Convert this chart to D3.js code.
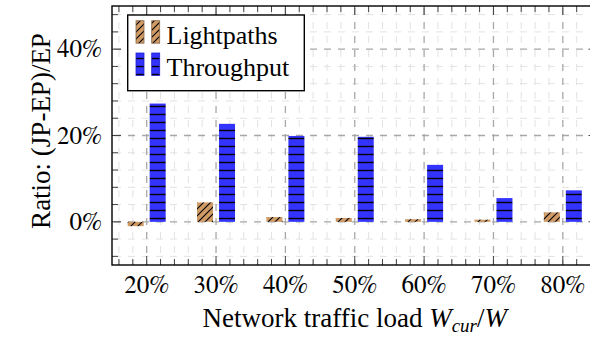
<!DOCTYPE html>
<html><head><meta charset="utf-8">
<script src="https://cdn.jsdelivr.net/npm/d3@7"></script>
</head><body style="margin:0;background:#fff">
<script>
const categories = [20, 30, 40, 50, 60, 70, 80];
const categoryLabels = ["20%", "30%", "40%", "50%", "60%", "70%", "80%"];
const lightpaths = [-1.0, 4.5, 1.1, 0.9, 0.6, 0.5, 2.2];
const throughput = [27.4, 22.7, 19.9, 19.7, 13.2, 5.5, 7.3];
const yTicks = [0, 20, 40];
const yTickLabels = ["0%", "20%", "40%"];
const seriesNames = ["Lightpaths", "Throughput"];

(function () {
const W = 590, H = 338;
const svg = d3.select("body").append("svg").attr("width", W).attr("height", H).style("display", "block");
const serifStyle = s => `font-family: "Liberation Serif", "Times New Roman", serif !important; font-size: ${s}px`;
const tickStyle = s => `font-family: "FreeSerif", "Liberation Serif", serif !important; font-size: ${s}px`;

const pL = 112, pR = 597.5, pT = 6, pB = 265;
const x = d3.scaleLinear().domain([15, 85]).range([pL, pR]);
const y = d3.scaleLinear().domain([-10, 50]).range([pB, pT]);

const defs = svg.append("defs");
const clip = defs.append("clipPath").attr("id", "plotclip");
clip.append("rect").attr("x", pL).attr("y", pT).attr("width", pR - pL).attr("height", pB - pT);

const p1 = defs.append("pattern").attr("id", "nelines").attr("patternUnits", "userSpaceOnUse")
  .attr("width", 7).attr("height", 7);
p1.append("rect").attr("width", 7).attr("height", 7).attr("fill", "#d09a64");
p1.append("path").attr("d", "M-1,8 L8,-1 M-4,4 L4,-4 M3,11 L11,3").attr("stroke", "#000").attr("stroke-width", 1.1);
const p2 = defs.append("pattern").attr("id", "hlines").attr("patternUnits", "userSpaceOnUse")
  .attr("width", 8).attr("height", 8);
p2.append("rect").attr("width", 8).attr("height", 8).attr("fill", "#3333ff");
p2.append("line").attr("x1", 0).attr("x2", 8).attr("y1", 2.5).attr("y2", 2.5).attr("stroke", "#000").attr("stroke-width", 1.4);

const g = svg.append("g");
const xMinor = d3.range(16, 85, 2).filter(v => (v - 20) % 10 !== 0);
const yMinor = d3.range(-8, 50, 4).filter(v => v % 20 !== 0);
const grid = g.append("g").attr("clip-path", "url(#plotclip)");
grid.selectAll(".xm").data(xMinor).join("line")
  .attr("x1", d => x(d)).attr("x2", d => x(d)).attr("y1", pT).attr("y2", pB)
  .attr("stroke", "#e2e2e2").attr("stroke-width", 1).attr("stroke-dasharray", "7,7").attr("stroke-dashoffset", -2);
grid.selectAll(".ym").data(yMinor).join("line")
  .attr("x1", pL).attr("x2", pR).attr("y1", d => y(d)).attr("y2", d => y(d))
  .attr("stroke", "#e2e2e2").attr("stroke-width", 1).attr("stroke-dasharray", "7,7").attr("stroke-dashoffset", -2);
grid.selectAll(".xM").data(categories).join("line")
  .attr("x1", d => x(d)).attr("x2", d => x(d)).attr("y1", pT).attr("y2", pB)
  .attr("stroke", "#a8a8a8").attr("stroke-width", 1.3).attr("stroke-dasharray", "7,7").attr("stroke-dashoffset", -2);
grid.selectAll(".yM").data(yTicks).join("line")
  .attr("x1", pL).attr("x2", pR).attr("y1", d => y(d)).attr("y2", d => y(d))
  .attr("stroke", "#a8a8a8").attr("stroke-width", 1.3).attr("stroke-dasharray", "7,7").attr("stroke-dashoffset", -2);

const bw = 16, off = 11;
const bars = g.append("g").attr("clip-path", "url(#plotclip)");
bars.selectAll(".lp").data(categories).join("rect")
  .attr("x", d => x(d) - off - bw / 2).attr("width", bw)
  .attr("y", (d, i) => y(Math.max(0, lightpaths[i])))
  .attr("height", (d, i) => Math.abs(y(lightpaths[i]) - y(0)))
  .attr("fill", "url(#nelines)");
bars.selectAll(".tp").data(categories).join("rect")
  .attr("x", d => x(d) + off - bw / 2).attr("width", bw)
  .attr("y", (d, i) => y(Math.max(0, throughput[i])))
  .attr("height", (d, i) => Math.abs(y(throughput[i]) - y(0)))
  .attr("fill", "url(#hlines)");

const tk = g.append("g").attr("stroke", "#444").attr("stroke-width", 1);
xMinor.forEach(v => {
  tk.append("line").attr("x1", x(v)).attr("x2", x(v)).attr("y1", pB).attr("y2", pB - 6);
  tk.append("line").attr("x1", x(v)).attr("x2", x(v)).attr("y1", pT).attr("y2", pT + 6);
});
categories.forEach(v => {
  tk.append("line").attr("x1", x(v)).attr("x2", x(v)).attr("y1", pB).attr("y2", pB - 9);
  tk.append("line").attr("x1", x(v)).attr("x2", x(v)).attr("y1", pT).attr("y2", pT + 9);
});
yMinor.forEach(v => {
  tk.append("line").attr("x1", pL).attr("x2", pL + 6).attr("y1", y(v)).attr("y2", y(v));
  tk.append("line").attr("x1", pR).attr("x2", pR - 6).attr("y1", y(v)).attr("y2", y(v));
});
yTicks.forEach(v => {
  tk.append("line").attr("x1", pL).attr("x2", pL + 9).attr("y1", y(v)).attr("y2", y(v));
  tk.append("line").attr("x1", pR).attr("x2", pR - 9).attr("y1", y(v)).attr("y2", y(v));
});

g.append("rect").attr("x", pL).attr("y", pT).attr("width", pR - pL).attr("height", pB - pT)
  .attr("fill", "none").attr("stroke", "#000").attr("stroke-width", 1.4);

// legend box
svg.append("rect").attr("x", 127.7).attr("y", 15).attr("width", 176.6).attr("height", 75.7)
  .attr("fill", "#fff").attr("stroke", "#000").attr("stroke-width", 1.4);
const fills = ["url(#nelines)", "url(#hlines)"];
const ly = [20.7, 53];
seriesNames.forEach((name, i) => {
  [136, 151.7].forEach(xx => {
    svg.append("rect").attr("x", xx).attr("y", ly[i]).attr("width", 8).attr("height", 22.5).attr("fill", fills[i])
      .attr("stroke", i === 0 ? "#8a6a4a" : "#2222cc").attr("stroke-width", 0.8);
  });
});

// texts directly under svg
categories.forEach((c, i) => {
  svg.append("text").attr("x", x(c)).attr("y", 293).attr("text-anchor", "middle")
    .attr("style", tickStyle(25)).text(categoryLabels[i]);
});
yTicks.forEach((t, i) => {
  svg.append("text").attr("x", 102).attr("y", y(t) + 8.3).attr("text-anchor", "end")
    .attr("style", tickStyle(25)).text(yTickLabels[i]);
});

const xl = svg.append("text").attr("x", (pL + pR) / 2).attr("y", 327).attr("text-anchor", "middle")
  .attr("style", serifStyle(27));
xl.append("tspan").text("Network traffic load ");
xl.append("tspan").attr("font-style", "italic").text("W");
xl.append("tspan").attr("font-style", "italic").attr("style", "font-size:19px").attr("dy", 5).text("cur");
xl.append("tspan").attr("dy", -5).text("/");
xl.append("tspan").attr("font-style", "italic").text("W");

svg.append("text").attr("transform", "translate(50,131) rotate(-90)").attr("text-anchor", "middle")
  .attr("style", serifStyle(27)).text("Ratio: (JP-EP)/EP");

seriesNames.forEach((name, i) => {
  svg.append("text").attr("x", 166.5).attr("y", i === 0 ? 44 : 76)
    .attr("style", serifStyle(26)).text(name);
});
})();
</script>
</body></html>
